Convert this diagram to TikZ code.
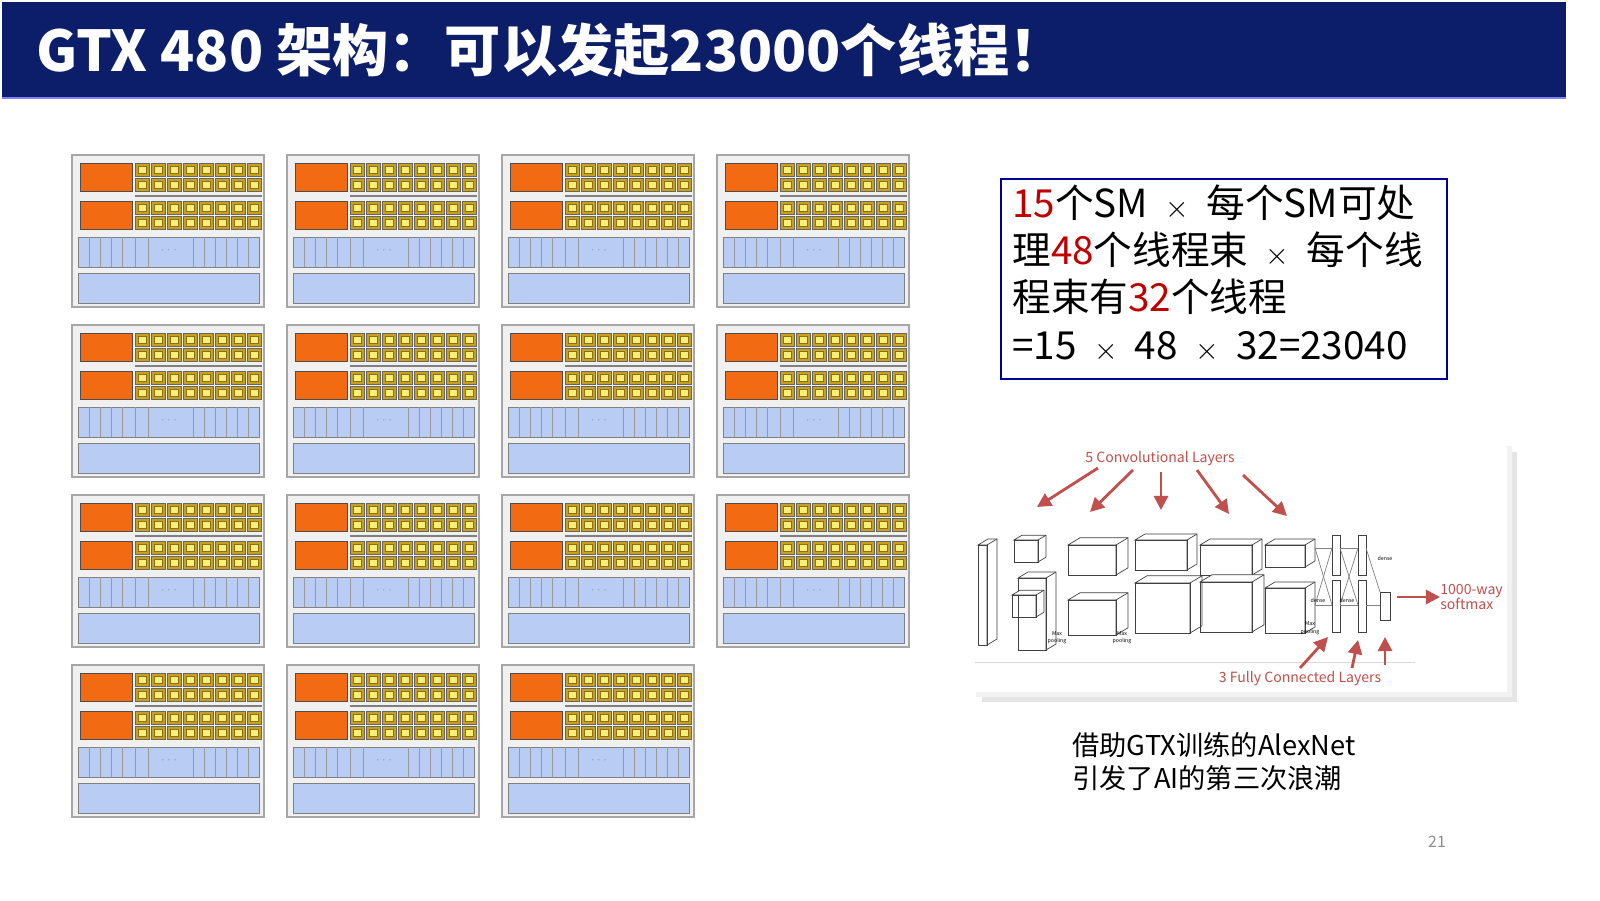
\documentclass[tikz,border=0pt]{standalone}
\usepackage{fontspec}
\setmainfont{Noto Sans CJK SC}
\usetikzlibrary{positioning,arrows.meta,calc,shadows}
\definecolor{titlenavy}{HTML}{0C1E6A}
\definecolor{smorange}{HTML}{F26A12}
\definecolor{coreyel}{HTML}{F6F07A}
\definecolor{coregold}{HTML}{C8A020}
\definecolor{regblue}{HTML}{B8CCF4}
\definecolor{redtxt}{HTML}{C00000}
\definecolor{annred}{HTML}{C0504D}
\tikzset{
    sm/.pic={
        \draw[gray!70, fill=gray!12, line width=0.8pt] (0,0) rectangle (192,152);
        \foreach \yy in {8,46} {
            \draw[black!70, fill=smorange] (8,\yy) rectangle (60,\yy+28);
            \foreach \cx in {0,...,7} {
                \foreach \cy in {0,1} {
                    \draw[black!60, fill=coregold] (63+\cx*16,\yy+\cy*15) rectangle ++(14,13);
                    \draw[coregold!70!black, fill=coreyel] (66+\cx*16,\yy+\cy*15+3) rectangle ++(8,7);
                }
            }
        }
        \draw[gray, line width=1pt] (63,41) -- (190,41);
        \draw[black!50, fill=regblue] (6,82) rectangle (187,112);
        \foreach \sx in {17,28,39,50,63,76,121,132,143,154,165,176} {
            \draw[black!40] (\sx,82) -- (\sx,112);
        }
        \node[font=\tiny, text=black!50] at (97,95) {$\cdots$};
        \draw[black!50, fill=regblue] (6,118) rectangle (187,148);
    },
    cnnline/.style={black!75, line width=0.4pt},
    annarrow/.style={-{Triangle[width=8pt,length=8pt]}, annred, line width=1.6pt},
    anntext/.style={text=annred, font=\fontsize{8}{9}\selectfont}
}
\newcommand{\cnncube}[5]{% x,y,w,h,depth
    \draw[cnnline, fill=white] (#1,#2) -- ++(#5,-#5*0.6) -- ++(#3,0) -- ++(0,#4) -- ++(-#5,#5*0.6) -- ++(0,-#4) -- cycle;
    \draw[cnnline] (#1,#2) rectangle ++(#3,#4);
    \draw[cnnline] (#1+#3,#2) -- ++(#5,-#5*0.6);
}
\newcommand{\mul}{{\fontsize{17}{20}\selectfont$\times$}}
\begin{document}
\begin{tikzpicture}[x=0.02cm, y=-0.02cm]
\useasboundingbox (0,0) rectangle (1600,900);
\fill[white] (0,0) rectangle (1600,900);

% title bar
\fill[titlenavy] (2,2) rectangle (1566,98);
\draw[blue!50, line width=1pt] (2,98) -- (1566,98);
\node[anchor=west, text=white, font=\bfseries\fontsize{32}{36}\selectfont] (title) at (30,50) {GTX 480 架构：可以发起23000个线程！};

% SM grid
\foreach \col in {0,...,3} {
    \foreach \row in {0,...,3} {
        \ifnum\numexpr\col+\row*4\relax<15
            \pic at (72+\col*215,155+\row*170) {sm};
        \fi
    }
}

% thread count box
\node[draw=blue!60!black, line width=1pt, minimum width=446*0.02cm, minimum height=200*0.02cm, anchor=north west] (calcbox) at (1000,178) {};
\node[anchor=north west, align=left, inner sep=0pt, font=\fontsize{22}{27}\selectfont] (calctext) at (1012,184)
    {\textcolor{redtxt}{15}个SM ~\mul~ 每个SM可处\\理\textcolor{redtxt}{48}个线程束 ~\mul~ 每个线\\程束有\textcolor{redtxt}{32}个线程\\=15 ~\mul~ 48 ~\mul~ 32=23040};

% AlexNet panel
\fill[black!10] (982,452) rectangle (1517,702);
\fill[black!5] (976,446) rectangle (1512,697);
\fill[white] (972,442) rectangle (1507,692);
\draw[black!15] (975,662) -- (1415,662);
\cnncube{978}{545}{9}{100}{10}
\cnncube{1018}{578}{28}{72}{10}
\cnncube{1014}{540}{24}{22}{8}
\cnncube{1012}{595}{24}{22}{8}
\cnncube{1068}{545}{48}{30}{12}
\cnncube{1068}{600}{48}{35}{12}
\cnncube{1135}{540}{52}{30}{10}
\cnncube{1135}{583}{55}{50}{12}
\cnncube{1200}{545}{52}{30}{10}
\cnncube{1200}{582}{52}{50}{12}
\cnncube{1265}{545}{40}{22}{10}
\cnncube{1265}{588}{40}{45}{10}
\draw[cnnline] (1332,535) rectangle (1340,575);
\draw[cnnline] (1332,580) rectangle (1340,632);
\draw[cnnline] (1358,535) rectangle (1366,575);
\draw[cnnline] (1358,580) rectangle (1366,632);
\draw[cnnline] (1380,592) rectangle (1390,620);
\foreach \ax/\bx in {1315/1332,1340/1358} {
    \draw[cnnline, black!50] (\ax,548) -- (\bx,548);
    \draw[cnnline, black!50] (\ax,605) -- (\bx,605);
    \draw[cnnline, black!50] (\ax,548) -- (\bx,605);
    \draw[cnnline, black!50] (\ax,605) -- (\bx,548);
}
\draw[cnnline, black!50] (1366,605) -- (1380,605);
\draw[cnnline, black!50] (1366,548) -- (1380,592);
\foreach \lx/\ly/\lt in {1057/634/Max,1057/641/pooling,1122/634/Max,1122/641/pooling,1310/624/Max,1310/632/pooling,1385/558/dense,1318/600/dense,1347/600/dense} {
    \node[font=\fontsize{3}{3}\selectfont, inner sep=0pt] at (\lx,\ly) {\lt};
}

% annotations
\node[anchor=north, anntext] (convlbl) at (1160,445) {5 Convolutional Layers};
\node[anchor=south, anntext] (fclbl) at (1300,692) {3 Fully Connected Layers};
\node[anchor=west, anntext, align=left, inner sep=0pt] (softlbl) at (1440,597) {1000-way\\softmax};
\draw[annarrow] (1098,468) -- (1037,507);
\draw[annarrow] (1133,470) -- (1090,512);
\draw[annarrow] (1161,472) -- (1161,510);
\draw[annarrow] (1197,470) -- (1229,514);
\draw[annarrow] (1243,475) -- (1287,516);
\draw[annarrow] (1300,668) -- (1328,637);
\draw[annarrow] (1352,668) -- (1358,640);
\draw[annarrow] (1385,665) -- (1385,637);
\draw[annarrow] (1397,597) -- (softlbl.west);

% caption
\node[anchor=north west, align=left, inner sep=0pt, font=\fontsize{15.5}{19}\selectfont] (caption) at (1072,732)
    {借助GTX训练的AlexNet\\引发了AI的第三次浪潮};
\node[text=black!45, font=\fontsize{9}{10}\selectfont] (pagenum) at (1437,842) {21};
\end{tikzpicture}
\end{document}
